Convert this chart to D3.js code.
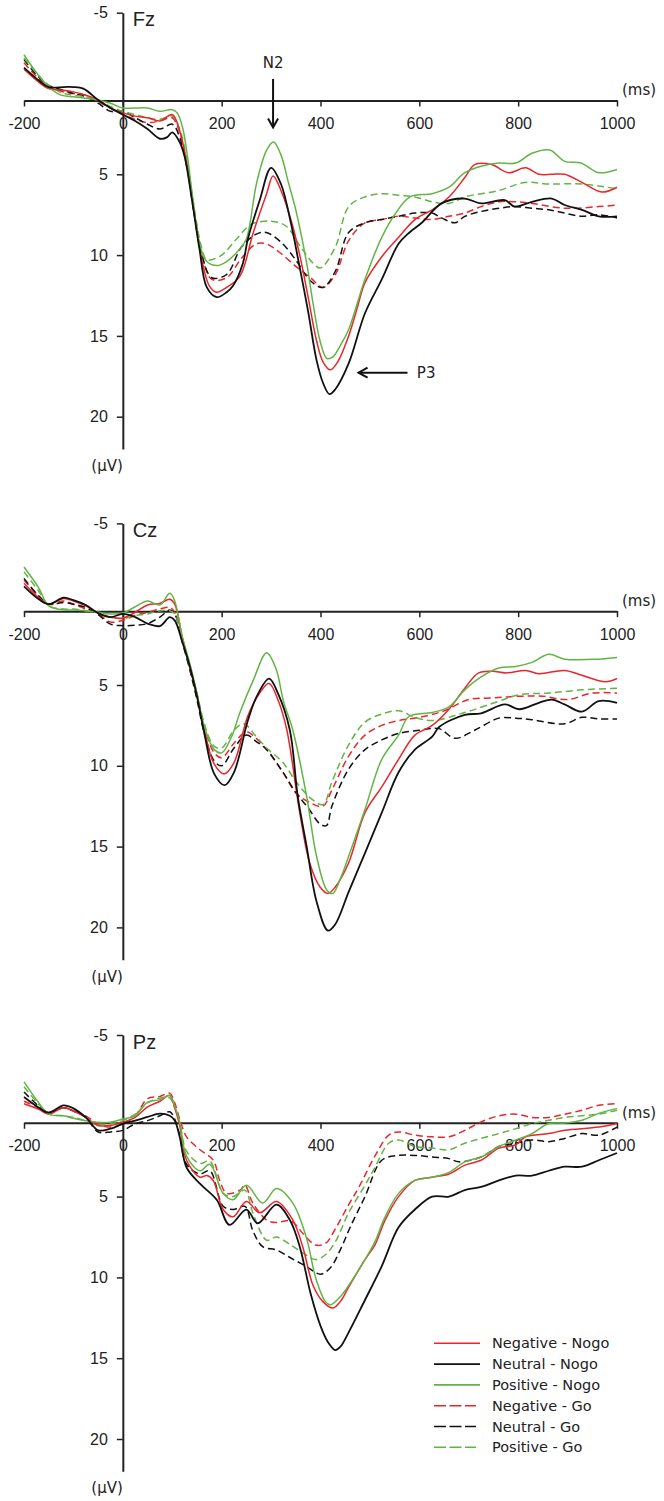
<!DOCTYPE html>
<html><head><meta charset="utf-8">
<script src="https://cdn.jsdelivr.net/npm/d3@7/dist/d3.min.js"></script>
<style>
html,body{margin:0;padding:0;background:#fff;}
svg{display:block;}
</style></head>
<body>
<svg id="chart" width="664" height="1501"></svg>
<script>
// ---------------- DATA ----------------
const electrodes = ["Fz", "Cz", "Pz"];
const conditions = ["Negative - Nogo", "Neutral - Nogo", "Positive - Nogo", "Negative - Go", "Neutral - Go", "Positive - Go"];
const xTicks = [-200, 0, 200, 400, 600, 800, 1000];
const yTicks = [-5, 5, 10, 15, 20];
const yDomain = [-5, 22];
const xDomain = [-200, 1000];

// Fz  ([time ms, amplitude µV])
const fzNegNogo = [[-200,-1.5],[-170,-0.7],[-150,-0.3],[-120,-0.2],[-100,-0.1],[-75,0.1],[-50,0.4],[-25,0.9],[0,1.2],[25,1.4],[50,1.5],[75,1.7],[100,1.3],[115,2.3],[130,4.5],[145,7.5],[160,10.3],[175,11.9],[190,12.3],[210,12.0],[237,11.3],[264,8.6],[291,6.2],[304,5.1],[320,6.0],[340,7.8],[358,10.0],[375,12.6],[392,15.3],[405,16.6],[420,17.1],[435,16.6],[457,15.0],[475,13.2],[490,11.7],[524,10.1],[558,8.9],[591,7.8],[626,7.2],[660,6.4],[692,5.2],[712,4.4],[746,4.4],[781,4.9],[815,4.6],[842,5.0],[868,5.0],[894,5.0],[929,5.5],[969,6.1],[1000,5.8]];
const fzNeuNogo = [[-200,-1.6],[-170,-0.8],[-150,-0.4],[-120,-0.4],[-100,-0.4],[-80,-0.3],[-50,0.4],[-25,0.9],[0,1.3],[25,1.7],[50,2.2],[75,2.8],[90,2.7],[100,2.4],[115,3.0],[125,3.9],[140,6.6],[155,9.6],[170,12.0],[190,12.6],[210,12.3],[223,11.9],[243,10.5],[253,9.0],[277,6.6],[300,4.6],[320,5.6],[340,8.0],[355,10.3],[375,13.5],[392,16.5],[405,17.9],[418,18.6],[430,18.3],[457,16.7],[490,13.6],[524,11.5],[558,9.3],[580,8.6],[605,8.0],[645,6.8],[692,6.5],[725,6.8],[773,6.6],[793,7.0],[828,6.7],[868,6.5],[894,6.9],[929,7.2],[963,7.6],[1000,7.6]];
const fzPosNogo = [[-200,-2.4],[-175,-1.3],[-150,-0.4],[-125,0.1],[-100,0.2],[-75,0.3],[-50,0.4],[-25,0.6],[0,0.9],[25,0.9],[50,0.9],[75,1.1],[100,1.0],[110,1.2],[120,2.0],[129,3.5],[142,6.6],[156,9.4],[170,10.4],[190,10.65],[210,10.4],[237,9.6],[250,9.0],[271,5.5],[291,3.5],[305,3.0],[320,3.8],[335,5.5],[350,7.2],[372,10.5],[385,13.0],[399,15.3],[413,16.4],[425,16.3],[440,15.6],[457,14.6],[490,11.5],[524,8.9],[550,7.5],[581,6.4],[626,6.2],[660,5.8],[692,4.9],[725,4.5],[761,4.3],[795,4.3],[828,3.7],[864,3.5],[894,4.2],[927,4.3],[963,4.9],[1000,4.7]];
const fzNegGo = [[-200,-1.9],[-170,-0.9],[-150,-0.4],[-120,-0.1],[-100,0.0],[-75,0.1],[-50,0.5],[-25,0.9],[0,1.3],[25,1.6],[50,1.8],[75,1.7],[100,1.5],[115,2.4],[130,4.4],[145,7.4],[160,10.0],[180,11.5],[210,11.4],[240,10.2],[270,9.3],[290,9.3],[320,9.9],[350,10.7],[380,11.4],[405,12.0],[430,11.2],[457,9.1],[490,8.0],[524,7.8],[558,7.6],[591,7.7],[626,7.8],[660,7.6],[692,7.4],[725,7.0],[761,6.7],[795,6.7],[828,6.8],[894,7.1],[963,7.0],[1000,6.9]];
const fzNeuGo = [[-200,-2.1],[-170,-1.0],[-150,-0.5],[-120,-0.2],[-100,0.0],[-75,0.2],[-50,0.6],[-25,1.1],[0,1.1],[25,1.5],[50,1.9],[75,2.2],[100,1.9],[115,2.7],[130,4.6],[145,7.6],[160,10.0],[180,11.4],[210,11.2],[240,9.5],[270,8.7],[290,8.6],[320,9.2],[350,10.3],[380,11.6],[405,12.0],[430,11.0],[457,8.6],[490,8.0],[524,7.8],[558,7.6],[591,7.4],[626,7.4],[645,7.7],[672,8.0],[692,7.6],[725,7.3],[761,7.1],[795,7.0],[828,7.1],[862,7.2],[894,7.4],[929,7.6],[963,7.5],[1000,7.7]];
const fzPosGo = [[-200,-2.2],[-170,-1.1],[-150,-0.5],[-120,0.0],[-100,0.1],[-75,0.2],[-50,0.4],[-25,0.8],[0,1.1],[25,1.3],[50,1.5],[75,1.6],[100,1.4],[115,2.2],[130,4.2],[145,7.2],[160,9.6],[170,10.3],[200,10.0],[230,9.0],[260,8.1],[300,7.9],[330,8.2],[360,9.5],[385,10.5],[400,10.8],[430,9.5],[457,7.0],[490,6.4],[524,6.2],[558,6.3],[591,6.4],[626,6.7],[660,6.8],[692,6.4],[761,6.0],[814,5.5],[862,5.6],[929,5.6],[1000,5.9]];

// Cz
const czNegNogo = [[-200,-1.3],[-170,-0.4],[-150,0.0],[-120,-0.35],[-100,-0.2],[-75,0.1],[-50,0.55],[-25,0.8],[0,0.86],[25,0.5],[50,0.05],[75,-0.05],[95,-0.3],[105,0.0],[120,2.0],[135,3.8],[150,5.6],[165,7.8],[185,9.9],[205,10.5],[225,9.8],[253,6.9],[277,5.5],[296,4.9],[315,6.0],[332,7.8],[358,12.9],[378,16.0],[399,17.5],[415,17.9],[430,17.5],[457,16.0],[490,12.9],[524,11.3],[558,9.6],[591,8.1],[626,7.5],[660,6.5],[692,5.2],[720,4.25],[748,4.15],[775,4.25],[815,4.1],[842,4.3],[894,4.1],[929,4.4],[976,4.8],[1000,4.6]];
const czNeuNogo = [[-200,-1.1],[-170,-0.3],[-150,0.0],[-120,-0.4],[-100,-0.25],[-75,0.05],[-50,0.55],[-25,0.8],[0,0.6],[25,0.8],[50,1.2],[75,1.35],[95,0.8],[105,1.0],[120,2.3],[135,3.8],[150,5.7],[165,8.0],[185,10.5],[206,11.2],[225,10.4],[253,7.2],[271,5.7],[296,4.6],[315,5.6],[338,7.8],[354,11.9],[372,15.0],[392,18.4],[415,20.2],[430,19.8],[457,17.8],[490,15.4],[524,12.9],[558,10.4],[591,9.0],[626,8.2],[640,7.6],[692,6.85],[725,6.75],[773,6.2],[802,6.5],[842,6.1],[868,5.9],[894,6.2],[929,6.65],[963,6.0],[1000,6.1]];
const czPosNogo = [[-200,-2.3],[-170,-1.0],[-150,0.1],[-120,0.35],[-100,0.36],[-75,0.4],[-50,0.5],[-25,0.6],[0,0.55],[25,0.16],[50,-0.2],[75,0.05],[95,-0.67],[105,-0.2],[120,2.0],[135,3.6],[150,5.5],[165,7.6],[185,9.0],[200,9.2],[220,8.2],[237,6.7],[264,4.7],[291,3.0],[310,4.0],[325,6.0],[344,7.8],[372,11.9],[392,15.6],[413,17.7],[425,17.9],[440,17.0],[457,15.6],[490,12.7],[524,9.6],[558,8.1],[579,6.95],[626,6.7],[660,6.35],[692,5.3],[725,4.5],[761,3.95],[795,3.85],[828,3.6],[862,3.1],[894,3.4],[963,3.4],[1000,3.3]];
const czNegGo = [[-200,-1.5],[-170,-0.5],[-150,0.0],[-120,-0.2],[-100,0.0],[-75,0.3],[-50,0.6],[-25,1.1],[0,1.0],[25,0.7],[50,0.5],[75,0.3],[95,0.2],[105,0.5],[120,2.1],[135,3.9],[150,5.7],[165,7.6],[185,9.2],[200,9.5],[225,8.6],[250,7.9],[270,8.3],[291,9.0],[324,10.4],[351,11.7],[380,12.3],[405,12.5],[423,11.5],[457,9.4],[490,8.1],[524,7.5],[558,7.2],[600,7.0],[650,6.6],[700,5.9],[750,5.8],[800,5.7],[850,5.7],[900,5.9],[950,5.5],[1000,5.5]];
const czNeuGo = [[-200,-1.6],[-170,-0.5],[-150,0.0],[-120,-0.1],[-100,0.0],[-75,0.2],[-50,0.65],[-25,1.23],[0,1.33],[25,1.3],[50,1.2],[75,0.8],[95,0.36],[105,0.6],[120,2.3],[135,4.0],[150,5.9],[165,8.0],[185,9.7],[200,10.0],[225,8.9],[250,8.1],[270,8.5],[291,9.0],[324,10.4],[351,11.7],[375,12.6],[399,13.6],[412,13.7],[423,12.5],[457,10.2],[490,9.0],[524,8.4],[558,8.0],[600,7.8],[640,7.7],[672,8.3],[712,7.8],[761,7.05],[795,7.05],[828,7.15],[894,7.4],[929,7.0],[963,7.1],[1000,7.1]];
const czPosGo = [[-200,-2.0],[-170,-0.8],[-150,0.1],[-120,0.3],[-100,0.3],[-75,0.4],[-50,0.5],[-25,0.8],[0,0.9],[25,0.7],[50,0.6],[75,0.4],[95,0.4],[105,0.6],[120,2.1],[135,3.8],[150,5.5],[165,7.4],[185,8.8],[200,8.9],[225,7.8],[245,7.4],[270,8.2],[291,8.9],[324,9.8],[351,11.0],[380,12.0],[405,12.4],[423,11.0],[457,8.7],[490,7.3],[524,6.8],[558,6.6],[591,7.0],[626,7.2],[692,6.7],[761,6.0],[802,5.6],[862,5.5],[929,5.3],[1000,5.2]];

// Pz
const pzNegNogo = [[-200,-0.75],[-170,-0.4],[-150,-0.1],[-120,-0.5],[-100,-0.3],[-75,0.1],[-50,0.6],[-25,0.6],[0,0.4],[25,0.1],[50,-0.55],[75,-0.9],[95,-1.26],[105,-0.5],[115,0.6],[129,2.75],[156,3.8],[170,3.7],[183,4.0],[203,5.8],[223,6.25],[250,5.3],[277,6.0],[311,5.3],[344,6.45],[364,8.1],[385,10.5],[405,11.5],[425,11.9],[440,11.5],[457,10.6],[490,8.9],[510,8.0],[530,6.5],[558,5.0],[591,4.0],[626,3.8],[660,3.6],[692,3.05],[725,2.75],[761,2.0],[795,1.8],[815,1.3],[862,1.1],[894,0.9],[963,0.7],[1000,0.48]];
const pzNeuNogo = [[-200,-1.16],[-170,-0.5],[-150,-0.2],[-120,-0.65],[-100,-0.46],[-75,0.1],[-50,0.9],[-25,0.8],[0,0.5],[25,0.3],[50,0.07],[75,-0.13],[95,0.0],[105,0.3],[115,1.3],[129,3.2],[156,4.2],[190,5.2],[216,6.75],[250,5.8],[273,6.65],[311,5.5],[338,6.45],[358,8.1],[380,11.0],[400,13.0],[415,14.0],[430,14.5],[440,14.3],[457,13.4],[490,11.4],[524,9.3],[558,6.9],[591,5.8],[626,5.0],[660,5.0],[692,4.6],[725,4.4],[761,4.0],[795,3.7],[828,3.7],[862,3.4],[894,3.15],[929,3.15],[963,2.75],[1000,2.3]];
const pzPosNogo = [[-200,-2.1],[-170,-0.8],[-150,-0.1],[-120,0.0],[-100,0.15],[-75,0.3],[-50,0.4],[-25,0.4],[0,0.2],[25,0.0],[50,-0.85],[75,-1.0],[95,-1.26],[105,-0.6],[115,0.4],[129,2.5],[156,3.4],[176,3.0],[203,4.8],[223,5.2],[250,4.3],[283,5.4],[311,4.5],[344,5.4],[372,7.6],[390,10.0],[410,11.5],[420,11.7],[440,11.2],[457,10.5],[490,8.9],[510,7.8],[530,6.3],[558,4.8],[591,4.0],[626,3.8],[660,3.5],[692,2.85],[725,2.55],[761,1.9],[795,1.5],[828,1.1],[862,0.48],[894,0.45],[929,0.28],[963,-0.15],[1000,-0.46]];
const pzNegGo = [[-200,-0.9],[-170,-0.5],[-150,-0.2],[-120,-0.5],[-100,-0.3],[-75,0.0],[-50,0.5],[-25,0.7],[0,0.5],[25,0.0],[50,-1.06],[75,-1.2],[95,-1.4],[105,-0.8],[115,0.2],[129,1.3],[156,2.1],[183,2.75],[196,4.0],[210,4.8],[237,4.6],[247,4.3],[263,5.4],[291,6.45],[311,6.6],[340,6.5],[365,7.3],[390,8.0],[410,7.9],[430,7.0],[457,5.5],[478,4.4],[510,2.5],[538,1.2],[558,1.0],[591,1.2],[626,1.3],[660,1.3],[692,0.9],[725,0.38],[761,0.0],[795,-0.1],[828,0.1],[862,0.1],[894,-0.1],[929,-0.34],[963,-0.65],[1000,-0.75]];
const pzNeuGo = [[-200,-1.47],[-170,-0.6],[-150,-0.2],[-120,-0.5],[-100,-0.3],[-75,0.1],[-50,1.0],[-25,1.0],[0,0.9],[25,0.5],[50,0.3],[75,0.0],[95,-0.25],[105,0.2],[115,1.2],[129,3.0],[156,3.6],[176,3.4],[203,5.6],[223,5.8],[247,5.6],[263,7.1],[283,8.1],[311,8.3],[340,8.8],[370,9.3],[400,9.8],[420,9.4],[440,8.3],[460,6.9],[490,5.0],[524,2.75],[558,2.45],[591,2.45],[626,2.55],[660,2.65],[680,2.85],[725,2.55],[761,1.9],[795,1.7],[828,1.5],[862,1.6],[894,1.4],[929,1.1],[963,1.2],[1000,0.7]];
const pzPosGo = [[-200,-1.8],[-170,-0.7],[-150,-0.1],[-120,0.0],[-100,0.1],[-75,0.3],[-50,0.5],[-25,0.5],[0,0.3],[25,-0.1],[50,-0.8],[75,-1.1],[95,-1.1],[105,-0.5],[115,0.4],[129,2.2],[156,2.95],[176,2.8],[203,4.8],[223,5.0],[247,4.6],[263,6.0],[291,7.7],[311,7.5],[340,8.0],[370,8.6],[390,8.9],[410,8.6],[430,7.8],[457,6.0],[490,4.3],[510,3.2],[538,1.7],[558,1.5],[591,1.9],[626,2.0],[660,2.1],[692,1.7],[725,1.4],[761,1.1],[795,0.8],[828,0.48],[862,0.28],[894,0.1],[929,0.0],[963,-0.1],[1000,-0.34]];

const seriesByElectrode = {
  Fz: [fzNegNogo, fzNeuNogo, fzPosNogo, fzNegGo, fzNeuGo, fzPosGo],
  Cz: [czNegNogo, czNeuNogo, czPosNogo, czNegGo, czNeuGo, czPosGo],
  Pz: [pzNegNogo, pzNeuNogo, pzPosNogo, pzNegGo, pzNeuGo, pzPosGo]
};

// annotations (data coordinates on Fz)
const n2Arrow = {label: "N2", t: 304, from: -0.9, to: 2.1, labelAt: -1.9};
const p3Arrow = {label: "P3", v: 17.28, from: 576, to: 477, labelAt: 595};

// ---------------- STYLE / LAYOUT ----------------
const colors = ["#e8262b", "#111111", "#62b545", "#e8262b", "#111111", "#62b545"];
const dashed = [false, false, false, true, true, true];
const panelTops = [12.7, 523.4, 1035];
const pxPerUV = 16.16;
const axisCross = 0.43;
const xRange = [24, 617];
const drawOrder = [3, 4, 5, 0, 2, 1];
const plainFmt = d => String(d);

const svg = d3.select("#chart");
const x = d3.scaleLinear().domain(xDomain).range(xRange);

const tickFont = "'Liberation Sans', Arial, sans-serif";
const noteFont = "'DejaVu Sans', Verdana, sans-serif";

electrodes.forEach((el, pi) => {
  const top = panelTops[pi];
  const y = d3.scaleLinear().domain(yDomain).range([top, top + (yDomain[1] - yDomain[0]) * pxPerUV]);
  const g = svg.append("g");

  // y axis
  const yAx = g.append("g").attr("transform", `translate(${x(0)},0)`)
    .call(d3.axisLeft(y).tickValues(yTicks).tickFormat(plainFmt).tickSize(6).tickSizeOuter(0).tickPadding(9));
  yAx.select(".domain").attr("stroke", "#222").attr("stroke-width", 2);
  yAx.selectAll(".tick line").attr("stroke", "#222").attr("stroke-width", 1.5);
  yAx.selectAll("text").attr("font-family", tickFont).attr("font-size", 16).attr("fill", "#222");

  // x axis
  const xAx = g.append("g").attr("transform", `translate(0,${y(axisCross)})`)
    .call(d3.axisBottom(x).tickValues(xTicks).tickFormat(plainFmt).tickSize(6).tickSizeOuter(0).tickPadding(11));
  xAx.select(".domain").attr("stroke", "#222").attr("stroke-width", 2);
  xAx.selectAll(".tick line").attr("stroke", "#222").attr("stroke-width", 1.5);
  xAx.selectAll("text").attr("font-family", tickFont).attr("font-size", 16).attr("fill", "#222");

  // electrode label
  g.append("text").attr("x", x(0) + 10).attr("y", y(-5) + 13.5)
    .attr("font-family", tickFont).attr("font-size", 20).attr("fill", "#222").text(el);

  // units
  g.append("text").attr("x", x(1000) + 5).attr("y", y(axisCross) - 10)
    .attr("dominant-baseline", "central")
    .attr("font-family", noteFont).attr("font-size", 15).attr("fill", "#222").text("(ms)");
  g.append("text").attr("x", x(0)).attr("y", y(22) + 17)
    .attr("text-anchor", "end").attr("dominant-baseline", "central")
    .attr("font-family", noteFont).attr("font-size", 15).attr("fill", "#222").text("(\u03BCV)");

  // curves
  const line = d3.line().x(d => x(d[0])).y(d => y(d[1])).curve(d3.curveCatmullRom.alpha(0.5));
  const series = seriesByElectrode[el];
  drawOrder.forEach(i => {
    g.append("path").datum(series[i])
      .attr("d", line)
      .attr("fill", "none")
      .attr("stroke", colors[i])
      .attr("stroke-width", i === 1 ? 1.8 : 1.5)
      .attr("stroke-dasharray", dashed[i] ? "7,4" : null);
  });

  if (el === "Fz") {
    const ax = x(n2Arrow.t), y1 = y(n2Arrow.from), y2 = y(n2Arrow.to);
    g.append("line").attr("x1", ax).attr("x2", ax).attr("y1", y1).attr("y2", y2)
      .attr("stroke", "#111").attr("stroke-width", 2);
    g.append("path").attr("d", `M${ax-5},${y2-9}L${ax},${y2}L${ax+5},${y2-9}`)
      .attr("fill", "none").attr("stroke", "#111").attr("stroke-width", 2);
    g.append("text").attr("x", ax).attr("y", y(n2Arrow.labelAt))
      .attr("text-anchor", "middle").attr("dominant-baseline", "central")
      .attr("font-family", noteFont).attr("font-size", 15).attr("fill", "#222").text(n2Arrow.label);

    const py = y(p3Arrow.v), px1 = x(p3Arrow.from), px2 = x(p3Arrow.to);
    g.append("line").attr("x1", px1).attr("x2", px2).attr("y1", py).attr("y2", py)
      .attr("stroke", "#111").attr("stroke-width", 2);
    g.append("path").attr("d", `M${px2+9},${py-5}L${px2},${py}L${px2+9},${py+5}`)
      .attr("fill", "none").attr("stroke", "#111").attr("stroke-width", 2);
    g.append("text").attr("x", x(p3Arrow.labelAt)).attr("y", py)
      .attr("dominant-baseline", "central")
      .attr("font-family", noteFont).attr("font-size", 15).attr("fill", "#222").text(p3Arrow.label);
  }
});

// legend
const legend = svg.append("g").attr("transform", "translate(434,1343.3)");
conditions.forEach((c, i) => {
  const row = legend.append("g").attr("transform", `translate(0,${i * 20.8})`);
  row.append("line").attr("x1", 0).attr("x2", dashed[i] ? 42 : 46).attr("y1", 0).attr("y2", 0)
    .attr("stroke", colors[i]).attr("stroke-width", 1.6)
    .attr("stroke-dasharray", dashed[i] ? "12,3.5" : null);
  row.append("text").attr("x", 58).attr("y", 0).attr("dominant-baseline", "central")
    .attr("font-family", noteFont).attr("font-size", 14.5).attr("fill", "#222").text(c);
});
</script>
</body></html>
